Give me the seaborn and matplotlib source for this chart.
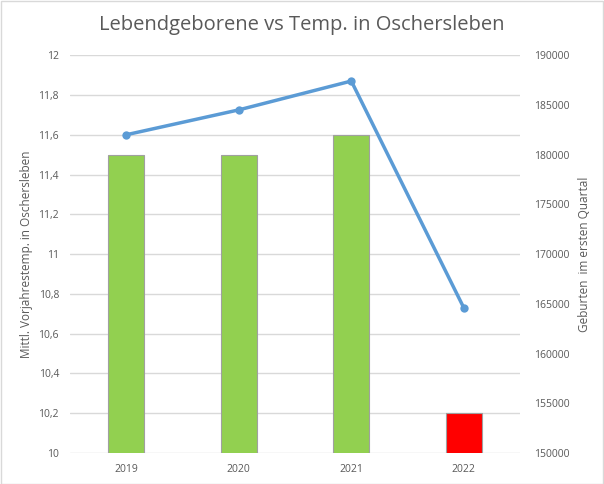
import matplotlib
matplotlib.use("Agg")
import matplotlib.pyplot as plt
import seaborn as sns
import pandas as pd

years = ["2019", "2020", "2021", "2022"]
temps = [11.5, 11.5, 11.6, 10.2]
births = [182000, 184500, 187400, 164600]
bar_colors = ["#92D050", "#92D050", "#92D050", "#FF0000"]

sns.set_style("white")
plt.rcParams['font.family'] = ['Open Sans', 'DejaVu Sans']

df = pd.DataFrame({"year": years, "temp": temps, "births": births})

fig = plt.figure(figsize=(6.04, 4.84), dpi=100)
ax = fig.add_axes([0.116, 0.064, 0.745, 0.822])

sns.barplot(data=df, x="year", y="temp", hue="year", palette=bar_colors, saturation=1,
            width=0.32, edgecolor="#A0A0A0", linewidth=0.8, legend=False, ax=ax, zorder=2)
ax.set_ylim(10, 12)
ax.set_yticks([10 + 0.2 * i for i in range(11)])
ax.set_yticklabels(["10", "10,2", "10,4", "10,6", "10,8", "11", "11,2", "11,4", "11,6", "11,8", "12"])
ax.yaxis.grid(True, color="#D9D9D9", linewidth=1, zorder=0)
ax.set_axisbelow(True)
for s in ax.spines.values():
    s.set_visible(False)
ax.tick_params(axis="both", length=0, labelsize=7.5, colors="#595959", pad=8)
ax.set_xlabel("")
ax.set_ylabel("Mittl. Vorjahrestemp. in Oschersleben", fontsize=8.5, color="#595959", labelpad=4)

ax2 = ax.twinx()
sns.lineplot(x=list(range(len(years))), y=births, ax=ax2, color="#5B9BD5",
             linewidth=2.5, marker="o", markersize=6, markeredgewidth=0, zorder=3)
ax2.set_ylim(150000, 190000)
ax2.set_yticks(range(150000, 190001, 5000))
ax2.set_yticklabels([str(v) for v in range(150000, 190001, 5000)])
for s in ax2.spines.values():
    s.set_visible(False)
ax2.tick_params(axis="y", length=0, labelsize=7.5, colors="#595959", pad=10)
ax2.set_ylabel("Geburten  im ersten Quartal", fontsize=8.5, color="#595959", labelpad=6)
ax.set_xlim(-0.5, 3.5)

fig.text(0.5, 0.948, "Lebendgeborene vs Temp. in Oschersleben", ha="center", va="center",
         fontsize=14.5, color="#595959")

fig.patches.append(plt.Rectangle((0.001, 0.001), 0.997, 0.997, transform=fig.transFigure,
                                 fill=False, edgecolor="#D9D9D9", linewidth=1))

fig.savefig("out.png", dpi=100)
